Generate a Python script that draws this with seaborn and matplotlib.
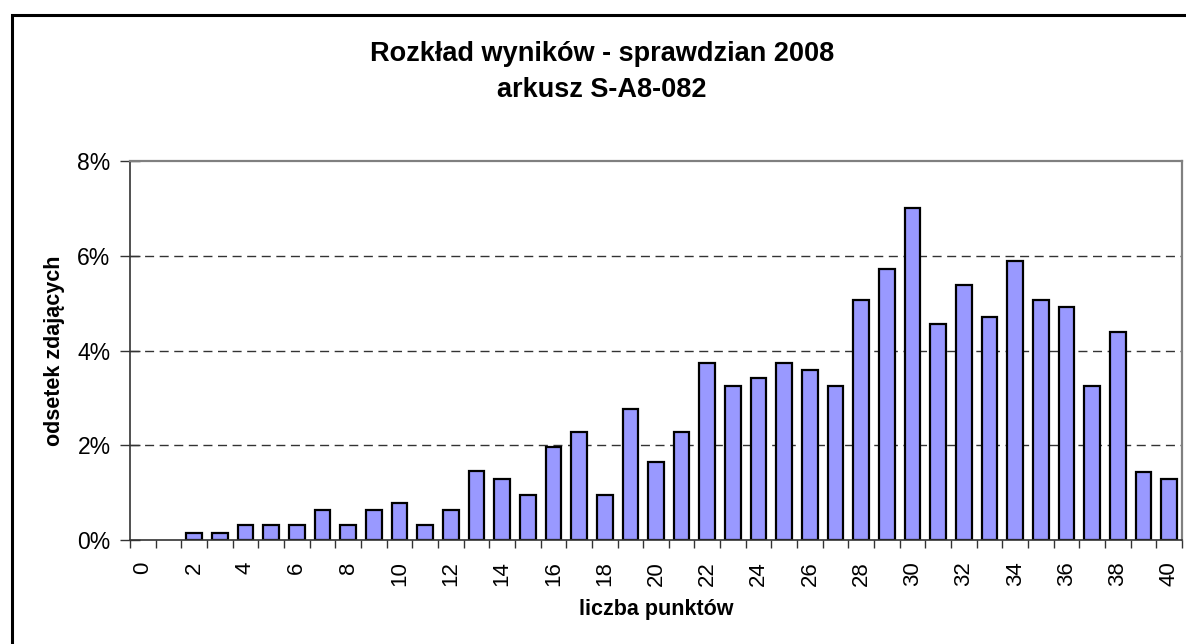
import matplotlib
matplotlib.use("Agg")
import matplotlib.pyplot as plt
import seaborn as sns
import numpy as np
import pandas as pd
from matplotlib.ticker import PercentFormatter, FixedLocator
from matplotlib.patches import Rectangle

# ---- data ----
points = list(range(0, 41))
percent = [0.0, 0.0, 0.15, 0.15, 0.31, 0.31, 0.31, 0.64, 0.31, 0.64,
           0.79, 0.31, 0.64, 1.45, 1.28, 0.96, 1.97, 2.29, 0.96, 2.77,
           1.64, 2.29, 3.74, 3.25, 3.41, 3.74, 3.58, 3.25, 5.07, 5.71,
           7.00, 4.55, 5.39, 4.71, 5.88, 5.07, 4.91, 3.25, 4.39, 1.44,
           1.28]
x_tick_labels = [str(p) for p in points[::2]]
y_ticks = [0, 2, 4, 6, 8]

title_text = "Rozkład wyników - sprawdzian 2008\narkusz S-A8-082"
xlabel_text = "liczba punktów"
ylabel_text = "odsetek zdających"

df = pd.DataFrame({"punkty": points, "odsetek": percent})

sns.set_style("white")
plt.rcParams["font.family"] = ["Liberation Sans", "DejaVu Sans"]
plt.rcParams["text.color"] = "black"
plt.rcParams["axes.labelcolor"] = "black"
plt.rcParams["xtick.color"] = "black"
plt.rcParams["ytick.color"] = "black"

W, H = 1186, 644
fig = plt.figure(figsize=(W / 100, H / 100), dpi=100)
ax = fig.add_axes([130 / W, 1 - 540 / H, (1182 - 130) / W, (540 - 161) / H])

sns.barplot(data=df, x="punkty", y="odsetek", color="#9999FF", saturation=1,
            width=0.61, edgecolor="black", linewidth=1.6, ax=ax, errorbar=None)
for p in ax.patches:
    if p.get_height() == 0:
        p.set_linewidth(0)

ax.set_xlim(-0.5, len(points) - 0.5)
ax.set_ylim(0, 8)

# gridlines
for v in y_ticks[1:-1]:
    ax.axhline(v, color="#333333", lw=1.0, dashes=(6.5, 4.0), zorder=0.5)

# y axis
ax.yaxis.set_major_locator(FixedLocator(y_ticks))
ax.yaxis.set_major_formatter(PercentFormatter(xmax=100, decimals=0))
ax.tick_params(axis="y", which="major", left=True, direction="inout", length=14,
               width=1, color="#333333", labelcolor="black", labelsize=16.5, pad=7)

# x axis: labels at even categories, tick marks at category boundaries
ax.set_xticks(np.arange(0, len(points), 2))
ax.set_xticklabels(x_tick_labels, rotation=90)
ax.set_xticks(np.arange(-0.5, len(points), 1.0), minor=True)
ax.tick_params(axis="x", which="major", bottom=True, length=0, labelsize=16,
               labelcolor="black", pad=15.5)
ax.tick_params(axis="x", which="minor", bottom=True, direction="out", length=6,
               width=1, color="#333333")

ax.set_xlabel(xlabel_text, fontsize=15.5, fontweight="bold", labelpad=9,
              color="black")
ax.set_ylabel(ylabel_text, fontsize=15.5, fontweight="bold", labelpad=9,
              color="black")

for s in ["left", "bottom"]:
    ax.spines[s].set_color("#333333")
    ax.spines[s].set_linewidth(1.2)
for s in ["top", "right"]:
    ax.spines[s].set_color("#808080")
    ax.spines[s].set_linewidth(1.6)

fig.text(602 / W, 1 - 72 / H, title_text, ha="center", va="center",
         fontsize=19.5, fontweight="bold", linespacing=1.5, color="black")

# chart-area border (black, runs off right and bottom edges)
fig.patches.append(Rectangle((11.5 / W, -0.1), 1.2, 1.1 - 14.5 / H,
                             transform=fig.transFigure, fill=False,
                             edgecolor="black", linewidth=2.2))

fig.savefig("out.png", dpi=100)
